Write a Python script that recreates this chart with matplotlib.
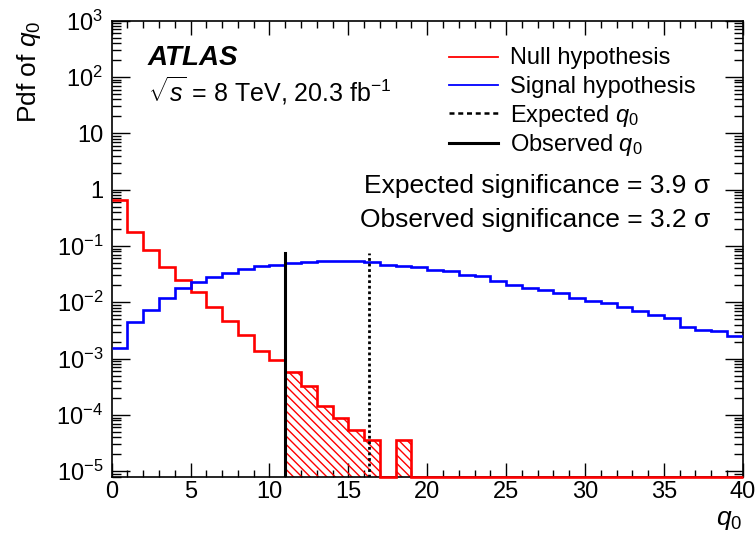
import numpy as np
import matplotlib
matplotlib.use("Agg")
import matplotlib.pyplot as plt
from matplotlib.ticker import LogLocator, NullFormatter, MultipleLocator

plt.rcParams['font.family'] = ['Liberation Sans', 'DejaVu Sans']
plt.rcParams['mathtext.fontset'] = 'custom'
plt.rcParams['mathtext.rm'] = 'Liberation Sans'
plt.rcParams['mathtext.it'] = 'Liberation Sans:italic'
plt.rcParams['mathtext.bf'] = 'Liberation Sans:bold'
plt.rcParams['hatch.linewidth'] = 1.0

# ---------------- data ----------------
bin_edges = list(range(0, 41))
null_pdf = [0.66, 0.174, 0.0835, 0.0423, 0.0245, 0.015, 0.0081, 0.00458,
            0.00266, 0.00135, 0.00093, 0.000578, 0.00033, 0.000142, 8.7e-5,
            5.3e-5, 3.6e-5, 0.0, 3.6e-5, 0.0,
            0, 0, 0, 0, 0, 0, 0, 0, 0, 0,
            0, 0, 0, 0, 0, 0, 0, 0, 0, 0]
signal_pdf = [0.00154, 0.0044, 0.0074, 0.0119, 0.0179, 0.0226, 0.0281, 0.0331,
              0.039, 0.0447, 0.0466, 0.0499, 0.0526, 0.054, 0.054, 0.053,
              0.0511, 0.0466, 0.0435, 0.0417, 0.0379, 0.0354, 0.0309, 0.0289,
              0.0242, 0.0206, 0.0179, 0.0167, 0.0146, 0.0119, 0.0104, 0.0097,
              0.0082, 0.0069, 0.006, 0.0053, 0.0037, 0.00326, 0.00305, 0.00248]
expected_q0 = 16.3
observed_q0 = 11.0
line_top = 0.075
legend_labels = ["Null hypothesis", "Signal hypothesis", r"Expected $q_0$", r"Observed $q_0$"]
y_tick_values = [1e-5, 1e-4, 1e-3, 1e-2, 1e-1, 1, 10, 100, 1000]
y_tick_labels = [r"$10^{-5}$", r"$10^{-4}$", r"$10^{-3}$", r"$10^{-2}$", r"$10^{-1}$",
                 "1", "10", r"$10^{2}$", r"$10^{3}$"]
x_tick_values = [0, 5, 10, 15, 20, 25, 30, 35, 40]

YMIN, YMAX = 8e-6, 1e3

# ---------------- figure ----------------
fig = plt.figure(figsize=(7.56, 5.45), dpi=100)
ax = fig.add_axes([111.7 / 756, (545 - 476.7) / 545, 631 / 756, 456 / 545])
ax.set_yscale('log')
ax.set_xlim(0, 40)
ax.set_ylim(YMIN, YMAX)

edges = np.array(bin_edges, dtype=float)
null_arr = np.array(null_pdf)
sig_arr = np.array(signal_pdf)
null_draw = np.where(null_arr > 0, null_arr, YMIN)

# hatched tail beyond observed q0
mask_start = int(observed_q0)
tail_x = edges[mask_start:20]
tail_y = np.append(null_draw[mask_start:19], null_draw[18])
ax.fill_between(tail_x, YMIN, tail_y, step='post', facecolor='none',
                edgecolor='#ff0000', hatch='\\\\\\\\', linewidth=0, zorder=2)

# histograms
ax.stairs(null_draw, edges, color='#ff0000', linewidth=1.9, baseline=None,
          zorder=3, clip_on=False)
ax.stairs(sig_arr, edges, color='#0000ff', linewidth=1.9, baseline=None, zorder=3)

# q0 lines
ax.plot([observed_q0, observed_q0], [YMIN, line_top], color='black', lw=2.2, zorder=4)
ax.plot([expected_q0, expected_q0], [YMIN, line_top], color='black', lw=2.0,
        linestyle=(0, (1, 1)), zorder=4)

# ticks
ax.set_xticks(x_tick_values)
ax.set_xticklabels([str(v) for v in x_tick_values])
ax.xaxis.set_minor_locator(MultipleLocator(1))
ax.set_yticks(y_tick_values)
ax.set_yticklabels(y_tick_labels)
ax.yaxis.set_minor_locator(LogLocator(base=10, subs=np.arange(2, 10), numticks=100))
ax.yaxis.set_minor_formatter(NullFormatter())
ax.tick_params(which='both', direction='in', top=True, right=True, width=1.0)
ax.tick_params(axis='x', which='major', length=10, labelsize=17, pad=3)
ax.tick_params(axis='x', which='minor', length=5)
ax.tick_params(axis='y', which='major', length=13, labelsize=17, pad=6)
ax.tick_params(axis='y', which='minor', length=6.5)
for s in ax.spines.values():
    s.set_linewidth(1.2)

ax.set_xlabel(r"$q_0$", fontsize=19, loc='right', labelpad=4)
ax.set_ylabel(r"Pdf of $q_0$", fontsize=19, loc='top', labelpad=10)

# annotations
ax.text(0.0575, 0.903, "ATLAS", transform=ax.transAxes, fontsize=20,
        fontweight='bold', fontstyle='italic', va='baseline', ha='left')
ax.text(0.0575, 0.8224, r"$\sqrt{s}$ = 8 TeV, 20.3 fb$^{-1}$", transform=ax.transAxes,
        fontsize=18, va='baseline', ha='left')
ax.text(0.948, 0.622, "Expected significance = 3.9 σ", transform=ax.transAxes,
        fontsize=19, va='baseline', ha='right')
ax.text(0.948, 0.548, "Observed significance = 3.2 σ", transform=ax.transAxes,
        fontsize=19, va='baseline', ha='right')

# legend (drawn manually)
def ay(py):
    return 1 - (py - 20.7) / 456

def axx(px):
    return (px - 111.7) / 631

leg_styles = [dict(color='#ff0000', lw=1.3, ls='-'),
              dict(color='#0000ff', lw=1.3, ls='-'),
              dict(color='black', lw=1.8, ls=(0, (2, 1.5))),
              dict(color='black', lw=2.2, ls='-')]
line_py = [56.7, 85.0, 113.0, 143.0]
text_py = [64.3, 93.3, 121.7, 150.7]
for lab, st, lpy, tpy in zip(legend_labels, leg_styles, line_py, text_py):
    ax.plot([axx(449), axx(498)], [ay(lpy), ay(lpy)], transform=ax.transAxes, **st)
    ax.text(axx(510), ay(tpy), lab, transform=ax.transAxes, fontsize=17,
            va='baseline', ha='left')

fig.savefig("out.png", dpi=100)
